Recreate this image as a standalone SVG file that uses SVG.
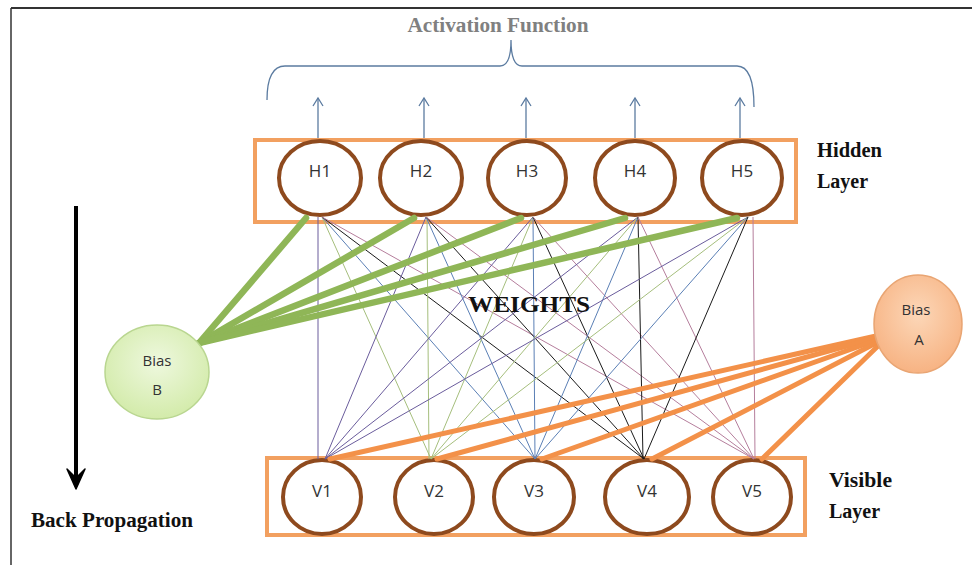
<svg xmlns="http://www.w3.org/2000/svg" width="972" height="565" viewBox="0 0 972 565">
<defs>
<style>
.frame{stroke:#333;fill:none}
.layer{fill:#fff;stroke:#F2A060;stroke-width:4}
.unit{fill:#fff;stroke:#8E4A1E;stroke-width:4}
.ulbl{font-family:"Open Sans","Noto Sans",sans-serif;font-size:17px;fill:#333;text-anchor:middle}
.blbl{font-family:"Open Sans","Noto Sans",sans-serif;font-size:15px;fill:#333;text-anchor:middle}
.title{font-family:"Liberation Serif",serif;font-weight:bold;font-size:20px;fill:#111}
.act{stroke:#5B7BA0;stroke-width:1.3;fill:none}
.w{stroke-width:1;fill:none}
.c1{stroke:#6A5C9C}.c2{stroke:#A5BE7C}.c3{stroke:#5A7FB5}.c4{stroke:#1A1A1A}.c5{stroke:#B57E9C}
.gb{stroke:#8FB657;stroke-width:6.5;stroke-linecap:round}
.ob{stroke:#F39149;stroke-width:5;stroke-linecap:round}
</style>
<marker id="chev" markerUnits="userSpaceOnUse" markerWidth="14" markerHeight="14" refX="9" refY="7" orient="auto">
<path d="M1,2 L9,7 L1,12" fill="none" stroke="#5B7BA0" stroke-width="1.3"/>
</marker>
<radialGradient id="gB" cx="50%" cy="40%" r="60%">
<stop offset="0" stop-color="#EEF8DE"/><stop offset="1" stop-color="#D3EBAA"/>
</radialGradient>
<radialGradient id="gA" cx="50%" cy="40%" r="60%">
<stop offset="0" stop-color="#FCD7B8"/><stop offset="1" stop-color="#F7B383"/>
</radialGradient>
</defs>
<rect width="972" height="565" fill="#fff"/>
<g id="frame">
<line class="frame" x1="11" y1="8" x2="972" y2="8" stroke-width="2"/>
<line class="frame" x1="11" y1="8" x2="11" y2="565" stroke-width="1.5" stroke="#555"/>
</g>
<g id="activation">
<text x="498" y="32" class="title" style="fill:#808080" text-anchor="middle" textLength="181" lengthAdjust="spacingAndGlyphs">Activation Function</text>
<path class="act" d="M267,100 Q267,66 285,66 L500,66 Q511,66 511,40 Q511,66 522,66 L737,66 Q754,66 754,107"/>
<line class="act" x1="318" y1="140" x2="318" y2="98" marker-end="url(#chev)"/>
<line class="act" x1="424" y1="140" x2="424" y2="98" marker-end="url(#chev)"/>
<line class="act" x1="526" y1="140" x2="526" y2="98" marker-end="url(#chev)"/>
<line class="act" x1="635" y1="140" x2="635" y2="98" marker-end="url(#chev)"/>
<line class="act" x1="740" y1="140" x2="740" y2="98" marker-end="url(#chev)"/>
</g>
<g id="hidden-layer">
<rect class="layer" x="255" y="140" width="541" height="82"/>
<text class="title" x="817" y="157" textLength="65" lengthAdjust="spacingAndGlyphs">Hidden</text>
<text class="title" x="817" y="188">Layer</text>
</g>
<g id="visible-layer">
<rect class="layer" x="267" y="458" width="538" height="77"/>
<text class="title" x="829" y="487" textLength="63" lengthAdjust="spacingAndGlyphs">Visible</text>
<text class="title" x="829" y="518">Layer</text>
</g>
<g id="H1"><ellipse class="unit" cx="320" cy="178" rx="41" ry="37"/><text class="ulbl" x="320" y="177">H1</text></g>
<g id="H2"><ellipse class="unit" cx="421" cy="178" rx="41" ry="37"/><text class="ulbl" x="421" y="177">H2</text></g>
<g id="H3"><ellipse class="unit" cx="527" cy="178" rx="39" ry="37"/><text class="ulbl" x="527" y="177">H3</text></g>
<g id="H4"><ellipse class="unit" cx="635" cy="178" rx="40" ry="37"/><text class="ulbl" x="635" y="177">H4</text></g>
<g id="H5"><ellipse class="unit" cx="742" cy="178" rx="40" ry="37"/><text class="ulbl" x="742" y="177">H5</text></g>
<g id="V1"><ellipse class="unit" cx="322" cy="497" rx="39" ry="37"/><text class="ulbl" x="322" y="497">V1</text></g>
<g id="V2"><ellipse class="unit" cx="434" cy="497" rx="39" ry="37"/><text class="ulbl" x="434" y="497">V2</text></g>
<g id="V3"><ellipse class="unit" cx="534" cy="497" rx="40" ry="37"/><text class="ulbl" x="534" y="497">V3</text></g>
<g id="V4"><ellipse class="unit" cx="647" cy="497" rx="42" ry="37"/><text class="ulbl" x="647" y="497">V4</text></g>
<g id="V5"><ellipse class="unit" cx="752" cy="497" rx="39" ry="37"/><text class="ulbl" x="752" y="497">V5</text></g>
<g id="connectors">
<line class="w c1" x1="318" y1="217" x2="318" y2="459"/>
<line class="w c2" x1="322" y1="217" x2="431" y2="459"/>
<line class="w c3" x1="322" y1="217" x2="535" y2="459"/>
<line class="w c4" x1="322" y1="217" x2="644" y2="459"/>
<line class="w c5" x1="322" y1="217" x2="754" y2="459"/>
<line class="w c1" x1="426" y1="217" x2="325" y2="459"/>
<line class="w c2" x1="427" y1="217" x2="429" y2="459"/>
<line class="w c3" x1="426" y1="217" x2="535" y2="459"/>
<line class="w c4" x1="426" y1="217" x2="644" y2="459"/>
<line class="w c5" x1="426" y1="217" x2="754" y2="459"/>
<line class="w c1" x1="533" y1="217" x2="325" y2="459"/>
<line class="w c2" x1="533" y1="217" x2="431" y2="459"/>
<line class="w c3" x1="533" y1="217" x2="535" y2="459"/>
<line class="w c4" x1="533" y1="217" x2="644" y2="459"/>
<line class="w c5" x1="533" y1="217" x2="754" y2="459"/>
<line class="w c1" x1="638" y1="217" x2="325" y2="459"/>
<line class="w c2" x1="638" y1="217" x2="431" y2="459"/>
<line class="w c3" x1="638" y1="217" x2="535" y2="459"/>
<line class="w c4" x1="638" y1="217" x2="643" y2="459"/>
<line class="w c5" x1="638" y1="217" x2="754" y2="459"/>
<line class="w c1" x1="748" y1="217" x2="325" y2="459"/>
<line class="w c2" x1="748" y1="217" x2="431" y2="459"/>
<line class="w c3" x1="748" y1="217" x2="535" y2="459"/>
<line class="w c4" x1="748" y1="217" x2="644" y2="459"/>
<line class="w c5" x1="753" y1="217" x2="755" y2="459"/>
<line class="gb" x1="199" y1="343" x2="306" y2="218"/>
<line class="gb" x1="199" y1="343" x2="414" y2="218"/>
<line class="gb" x1="199" y1="343" x2="521" y2="218"/>
<line class="gb" x1="199" y1="343" x2="625" y2="218"/>
<line class="gb" x1="199" y1="343" x2="737" y2="218"/>
<line class="ob" x1="876" y1="336" x2="330" y2="459"/>
<line class="ob" x1="876" y1="338" x2="437" y2="459"/>
<line class="ob" x1="877" y1="340" x2="542" y2="459"/>
<line class="ob" x1="878" y1="342" x2="652" y2="459"/>
<line class="ob" x1="880" y1="344" x2="762" y2="459"/>
</g>
<g id="BiasB">
<ellipse cx="157" cy="372" rx="52" ry="47" fill="url(#gB)" stroke="#B9D690" stroke-width="1.5"/>
<text class="blbl" x="157" y="366">Bias</text>
<text class="blbl" x="157" y="395">B</text>
</g>
<g id="BiasA">
<ellipse cx="918" cy="324" rx="44" ry="49" fill="url(#gA)" stroke="#E9A573" stroke-width="1.5"/>
<text class="blbl" x="916" y="315">Bias</text>
<text class="blbl" x="919" y="345">A</text>
</g>
<text x="468" y="312" class="title" style="font-size:24px" textLength="122" lengthAdjust="spacingAndGlyphs">WEIGHTS</text>
<g id="backprop">
<line x1="76" y1="206" x2="76" y2="478" stroke="#000" stroke-width="4"/>
<path d="M67,469 L76,489 L85,469 L76,478 Z" fill="#000" stroke="#000" stroke-width="1.5" stroke-linejoin="round"/>
<text class="title" x="31" y="527" textLength="162" lengthAdjust="spacingAndGlyphs">Back Propagation</text>
</g>
</svg>
